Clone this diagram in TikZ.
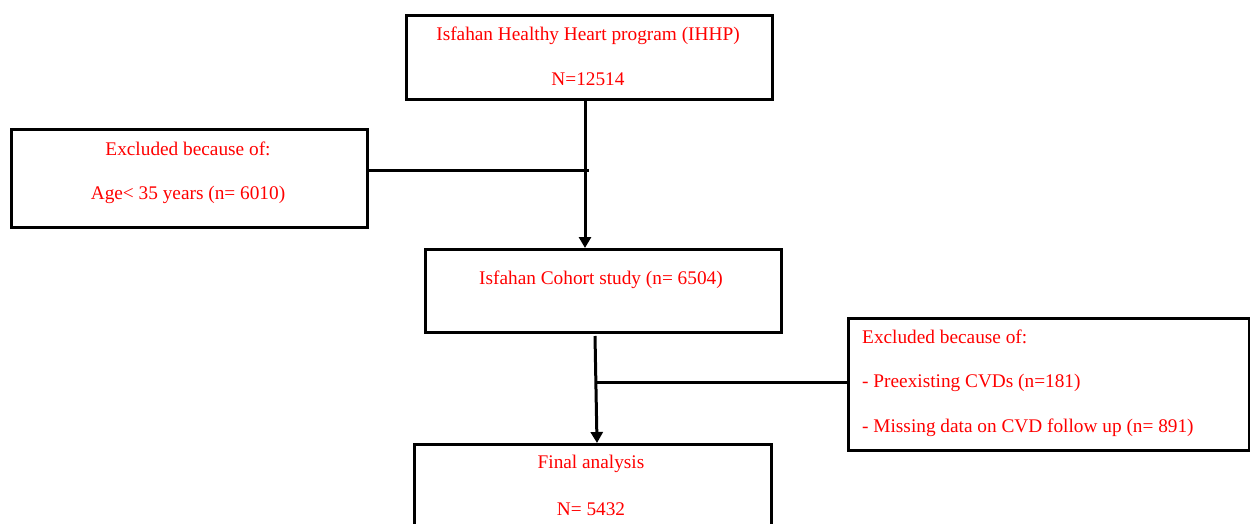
\documentclass[tikz,border=0pt]{standalone}
\usepackage{fontspec}
\setmainfont{Liberation Serif}
\usetikzlibrary{arrows.meta}
\begin{document}
\begin{tikzpicture}[x=1pt,y=1pt,
  box/.style={draw,line width=2.6pt,inner sep=0pt,anchor=north west},
  lbl/.style={text=red,font=\fontsize{19.3}{22}\selectfont,inner sep=0pt},
  conn/.style={line width=3pt},
  arr/.style={conn,-{Triangle[width=12pt,length=11pt]}}]
\useasboundingbox (0,0) rectangle (1250,523);
% boxes
\node[box,minimum width=366pt,minimum height=84pt] (b1) at (405,509) {};
\node[box,minimum width=356pt,minimum height=98pt] (b2) at (10,395) {};
\node[box,minimum width=356pt,minimum height=83pt] (b3) at (424,275) {};
\node[box,minimum width=401pt,minimum height=132pt] (b4) at (847,206) {};
\node[box,minimum width=357pt,minimum height=97pt] (b5) at (413,80) {};
% texts
\node[lbl] (t1a) at (588,487) {Isfahan Healthy Heart program (IHHP)};
\node[lbl] (t1b) at (588,444) {N=12514};
\node[lbl] (t2a) at (188,374) {Excluded because of:};
\node[lbl] (t2b) at (188,328) {Age< 35 years (n= 6010)};
\node[lbl] (t3) at (601,243) {Isfahan Cohort study (n= 6504)};
\node[lbl,anchor=west] (t4a) at (862,186) {Excluded because of:};
\node[lbl,anchor=west] (t4b) at (862,140) {- Preexisting CVDs (n=181)};
\node[lbl,anchor=west] (t4c) at (862,95) {- Missing data on CVD follow up (n= 891)};
\node[lbl] (t5a) at (591,59) {Final analysis};
\node[lbl] (t5b) at (591,14) {N= 5432};
% connectors
\coordinate (x1) at (585,0);
\coordinate (h1) at (369,352);
\coordinate (j1) at (589,352);
\coordinate (s2) at (595,187);
\coordinate (x2) at (597,0);
\coordinate (j2) at (597,141);
\draw[arr] (b1.south -| x1) -- (b3.north -| x1);
\draw[conn] (h1) -- (j1);
\draw[arr] (s2) -- (b5.north -| x2);
\draw[conn] (j2) -- (b4.west |- j2);
\end{tikzpicture}
\end{document}
